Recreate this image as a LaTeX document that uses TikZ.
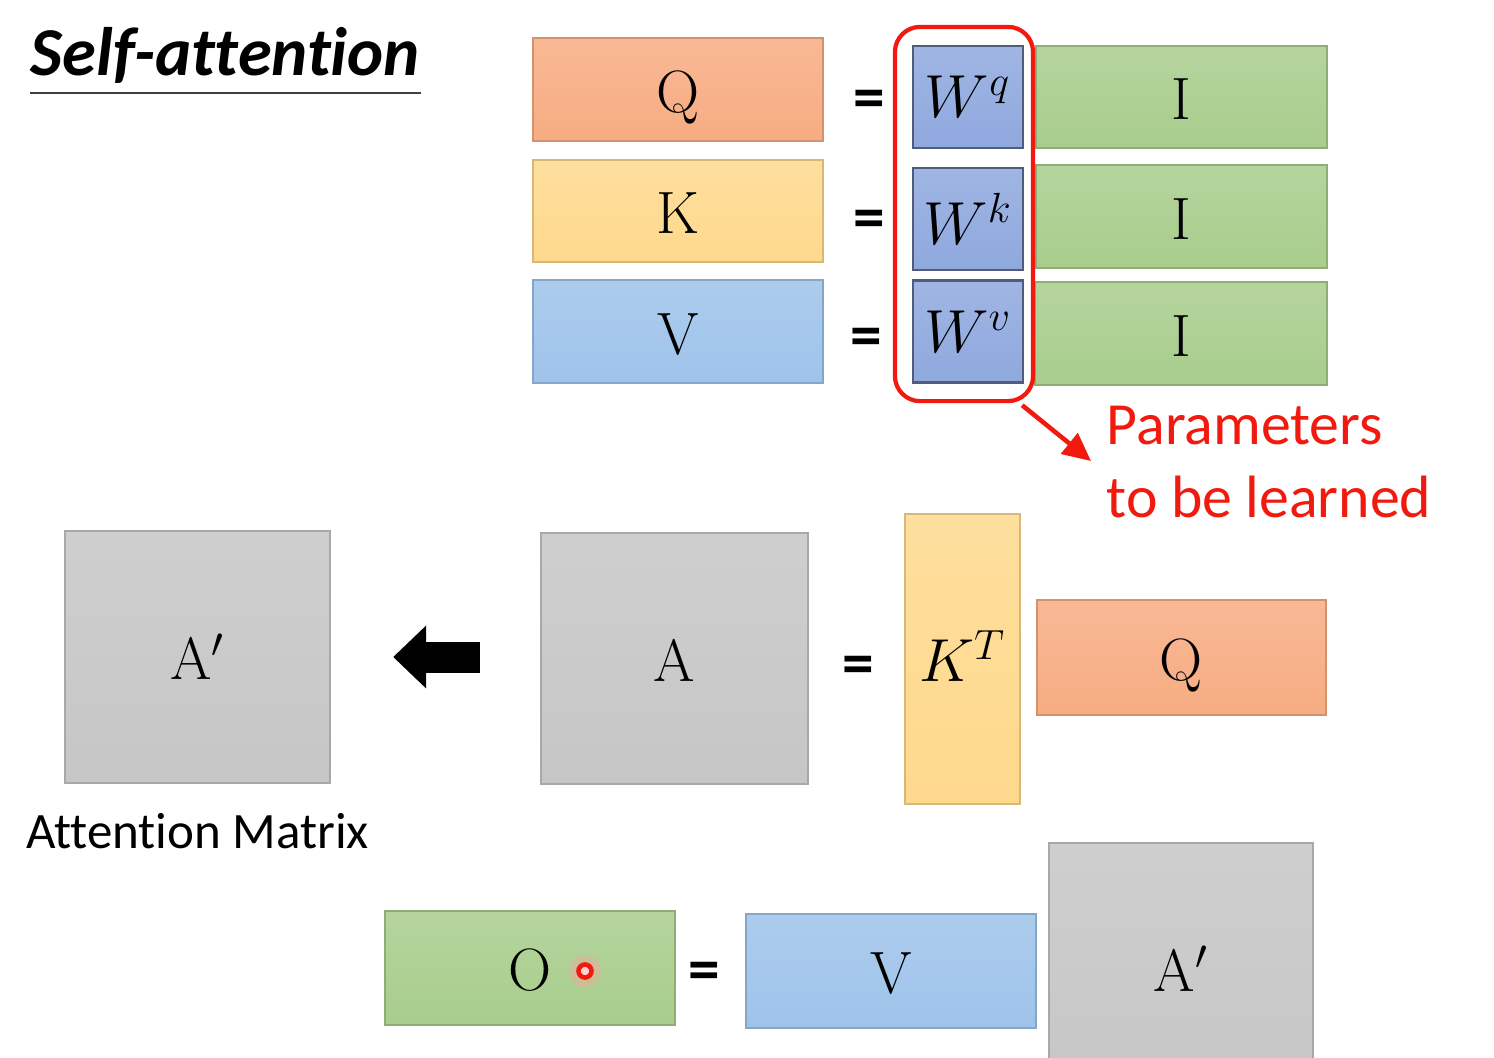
\documentclass[tikz,border=0pt]{standalone}
\usepackage{fontspec}
\newfontfamily\calibri[Ligatures=NoCommon]{Carlito}
\usepackage{tikz}
\usetikzlibrary{arrows.meta,
calc,
positioning
}
\definecolor{qorange}{HTML}{F7AC82}
\definecolor{kyellow}{HTML}{FED98C}
\definecolor{vblue}{HTML}{9EC3EA}
\definecolor{igreen}{HTML}{A8CD8C}
\definecolor{agray}{HTML}{C6C6C6}
\definecolor{wblue}{HTML}{8FA8DE}
\definecolor{pred}{HTML}{F2190F}
\tikzset{
  mat/.style={draw=#1!85!black, line width=0.6pt, top color=#1!85!white, bottom color=#1,
    inner sep=0pt, text height=0.55cm, text depth=0.1cm, font=\fontsize{17}{20}\selectfont},
  wmat/.style={draw=wblue!55!black, line width=0.6pt, top color=wblue!85!white, bottom color=wblue,
    inner sep=0pt, minimum width=1.10cm, minimum height=1.02cm, font=\fontsize{17}{20}\selectfont},
  eqs/.style={font=\calibri\bfseries\fontsize{18}{18}\selectfont, inner sep=0pt}
}

\begin{document}
\begin{tikzpicture}[x=0.01cm, y=-0.01cm]
\useasboundingbox (0,0) rectangle (1494,1057);
% title
\node[anchor=base west, inner sep=0pt, font=\calibri\bfseries\itshape\fontsize{19.5}{20}\selectfont] (title) at (30,75) {Self-attention};
\draw[black!75, line width=0.6pt] ([yshift=-0.18cm]title.base west) -- ([yshift=-0.18cm]title.base east);

% Q, K, V from I
\node[mat=qorange, minimum width=2.90cm, minimum height=1.03cm] (q) at (678,89.5) {Q};
\node[mat=kyellow, minimum width=2.90cm, minimum height=1.02cm] (k) at (678,211) {K};
\node[mat=vblue, minimum width=2.90cm, minimum height=1.03cm] (v) at (678,331.5) {V};
\node[eqs] (eq1) at (869,104) {=};
\node[eqs] (eq2) at (869,224) {=};
\node[eqs] (eq3) at (866,342) {=};
\node[wmat] (wq) at (968,97) {$W^q$};
\node[wmat] (wk) at (968,219) {$W^k$};
\node[wmat] (wv) at (968,331.5) {$W^v$};
\node[mat=igreen, minimum width=2.91cm, minimum height=1.02cm] (i1) at (1181.5,97) {I};
\node[mat=igreen, minimum width=2.91cm, minimum height=1.03cm] (i2) at (1181.5,216.5) {I};
\node[mat=igreen, minimum width=2.91cm, minimum height=1.03cm] (i3) at (1181,333.5) {I};

% parameters
\node[draw=pred, line width=1.2pt, rounded corners=0.25cm, minimum width=1.38cm, minimum height=3.74cm] (learn) at (964,214) {};
\coordinate (ptip) at (1091,461);
\draw[pred, line width=1.3pt, -{Triangle[length=0.28cm, width=0.26cm]}] ([xshift=-0.13cm, yshift=-0.02cm]learn.south east) -- (ptip);
\node[font=\calibri\fontsize{17}{20.8}\selectfont, inner sep=0pt, text=pred, anchor=north west, align=left] (params) at (1106,405) {Parameters\\to be learned};

% attention matrix
\node[mat=agray, minimum width=2.65cm, minimum height=2.52cm] (ap) at (197.5,657) {A$'$};
\node[font=\calibri\fontsize{14.5}{17}\selectfont, inner sep=0pt, anchor=base] (attn) at (197.5,848) {Attention Matrix};
\node[mat=agray, minimum width=2.67cm, minimum height=2.51cm] (a) at (674.5,658.5) {A};
\draw[line width=0.31cm, -{Triangle[length=0.33cm, width=0.61cm]}] ($(a.west |- ap.east)+(-60,0)$) -- ([xshift=0.62cm]ap.east);
\node[eqs] (eq4) at (858,670) {=};
\node[mat=kyellow, minimum width=1.15cm, minimum height=2.90cm] (kt) at (962.5,659) {$K^T$};
\node[mat=qorange, minimum width=2.89cm, minimum height=1.15cm] (q2) at (1181.5,657.5) {Q};

% output
\node[mat=igreen, minimum width=2.90cm, minimum height=1.14cm] (o) at (530,968) {O};
\fill[pred!40, opacity=0.4] (585,971) circle (0.16cm);
\node[circle, draw=pred, fill=pred!20, line width=1.3pt, inner sep=0pt, minimum size=0.13cm] (dot) at (585,971) {};
\node[eqs] (eq5) at (704,976) {=};
\node[mat=vblue, minimum width=2.90cm, minimum height=1.14cm] (v2) at (891,971) {V};
\node[mat=agray, minimum width=2.64cm, minimum height=2.52cm] (ap2) at (1181,969) {A$'$};
\end{tikzpicture}
\end{document}
